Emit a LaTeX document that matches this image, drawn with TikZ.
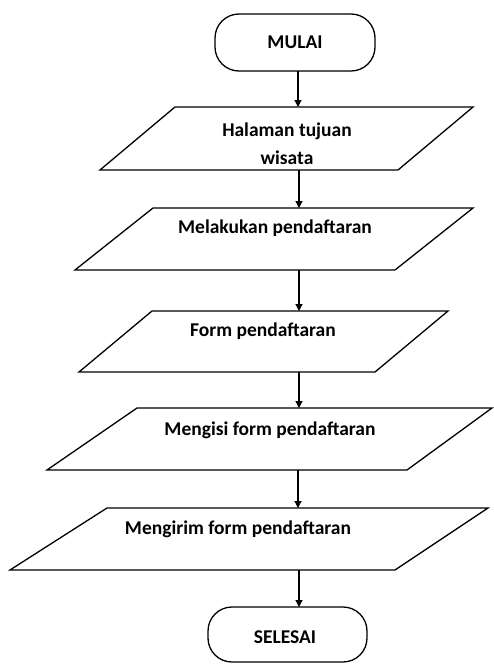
\documentclass[tikz,border=0pt]{standalone}
\usepackage{fontspec}
\setmainfont{Carlito}
\usetikzlibrary{arrows.meta}
\begin{document}
\begin{tikzpicture}[x=1pt,y=-1pt,
  shapeline/.style={draw=black, line width=1.3pt, line join=miter},
  flow/.style={-{Triangle[length=7pt,width=7pt]}, line width=1.2pt},
  lbl/.style={font=\bfseries\fontsize{19.5}{28}\selectfont, inner sep=0pt, align=center}]
\useasboundingbox (0,0) rectangle (494,664);

% Start terminal
\draw[shapeline, rounded corners=24pt] (215,14) rectangle (375,71);
\node[lbl] (mulai) at (295,42) {MULAI};
\coordinate (mulaiB) at (298,71);

% Parallelogram 1
\draw[shapeline] (175,107) -- (473,107) -- (398,170) -- (100,170) -- cycle;
\node[lbl] (p1) at (287,144) {Halaman tujuan\\wisata};
\coordinate (p1T) at (298,107);
\coordinate (p1B) at (299,170);

% Parallelogram 2
\draw[shapeline] (153,208) -- (473,208) -- (395,270) -- (75,270) -- cycle;
\node[lbl] (p2) at (275,228) {Melakukan pendaftaran};
\coordinate (p2T) at (299,208);
\coordinate (p2B) at (299,270);

% Parallelogram 3
\draw[shapeline] (152,311) -- (448,311) -- (375,372) -- (79,372) -- cycle;
\node[lbl] (p3) at (263,331) {Form pendaftaran};
\coordinate (p3T) at (299,311);
\coordinate (p3B) at (299,372);

% Parallelogram 4
\draw[shapeline] (137,408) -- (492,408) -- (407,470) -- (47,470) -- cycle;
\node[lbl] (p4) at (270,430) {Mengisi form pendaftaran};
\coordinate (p4T) at (299,408);
\coordinate (p4B) at (298,470);

% Parallelogram 5
\draw[shapeline] (107,508) -- (488,508) -- (395,570) -- (10,570) -- cycle;
\node[lbl] (p5) at (238,529) {Mengirim form pendaftaran};
\coordinate (p5T) at (298,508);
\coordinate (p5B) at (299,570);

% End terminal
\draw[shapeline, rounded corners=24pt] (208,607) rectangle (367,662);
\node[lbl] (selesai) at (285,637) {SELESAI};
\coordinate (selesaiT) at (299,607);

% Connectors
\draw[flow] (mulaiB) -- (p1T);
\draw[flow] (p1B) -- (p2T);
\draw[flow] (p2B) -- (p3T);
\draw[flow] (p3B) -- (p4T);
\draw[flow] (p4B) -- (p5T);
\draw[flow] (p5B) -- (selesaiT);
\end{tikzpicture}
\end{document}
